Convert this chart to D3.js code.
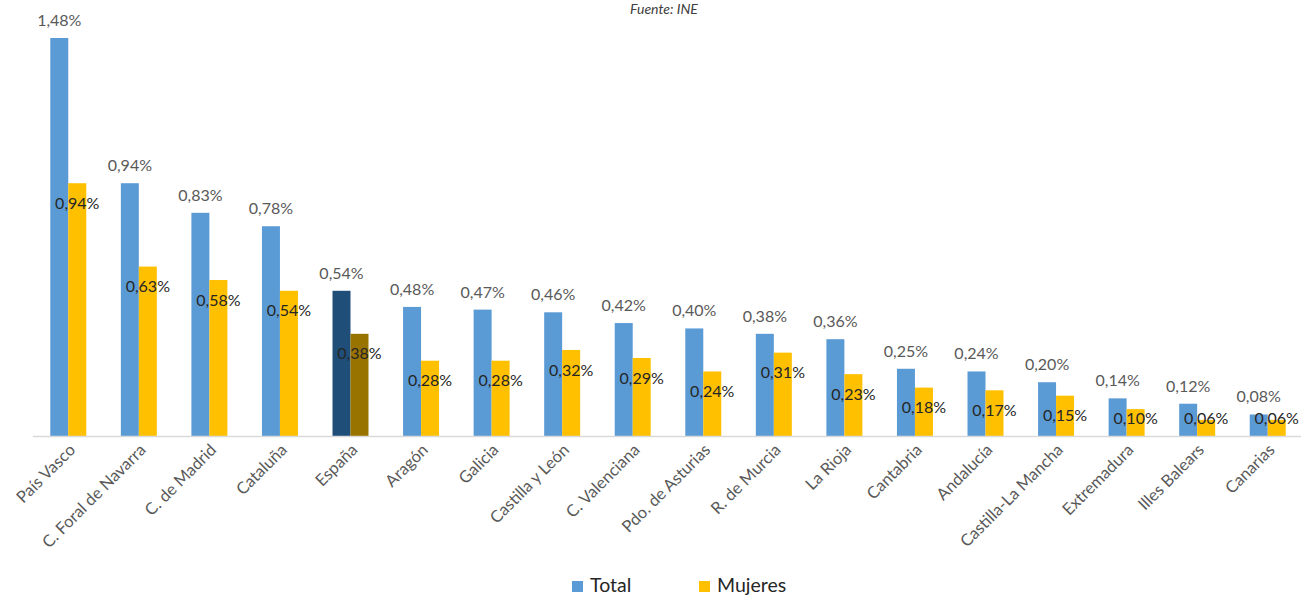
<!DOCTYPE html>
<html>
<head>
<meta charset="utf-8">
<script src="https://cdn.jsdelivr.net/npm/d3@7"></script>
<style>
  html, body { margin: 0; padding: 0; background: #fff; }
  svg { display: block; font-family: Lato, "Open Sans", sans-serif; }
</style>
</head>
<body>
<svg id="chart" width="1301" height="597"></svg>
<script>
// Comunidades autónomas, ordered by the total share
const categories = ["País Vasco", "C. Foral de Navarra", "C. de Madrid", "Cataluña", "España",
  "Aragón", "Galicia", "Castilla y León", "C. Valenciana", "Pdo. de Asturias", "R. de Murcia",
  "La Rioja", "Cantabria", "Andalucía", "Castilla-La Mancha", "Extremadura", "Illes Balears", "Canarias"];
const totalValues = [1.48, 0.94, 0.83, 0.78, 0.54, 0.48, 0.47, 0.46, 0.42, 0.40, 0.38, 0.36, 0.25, 0.24, 0.20, 0.14, 0.12, 0.08];
const mujeresValues = [0.94, 0.63, 0.58, 0.54, 0.38, 0.28, 0.28, 0.32, 0.29, 0.24, 0.31, 0.23, 0.18, 0.17, 0.15, 0.10, 0.06, 0.06];
const seriesNames = ["Total", "Mujeres"];
const sourceNote = "Fuente: INE";
const highlighted = "España";

const colors = { Total: "#5B9BD5", Mujeres: "#FFC000" };
const highlightColors = { Total: "#1F4E79", Mujeres: "#997300" };

const svg = d3.select("#chart");
const baseY = 436;
const fmt = v => d3.format(".2f")(v).replace(".", ",") + "%";

const x0 = d3.scaleBand().domain(categories).range([33, 1303]).paddingInner(0.49).paddingOuter(0.245);
const x1 = d3.scaleBand().domain(seriesNames).range([0, x0.bandwidth()]);
const y = d3.scaleLinear().domain([0, 1.48]).range([baseY, 38]);

const rows = categories.map((c, i) => ({ cat: c, Total: totalValues[i], Mujeres: mujeresValues[i] }));

// Source note
svg.append("text").attr("x", 664).attr("y", 14).attr("text-anchor", "middle")
  .attr("font-style", "italic").attr("font-size", 14).attr("fill", "#404040").text(sourceNote);

// Bars
const groups = svg.append("g").selectAll("g").data(rows).join("g")
  .attr("transform", d => `translate(${x0(d.cat)},0)`);

groups.selectAll("rect").data(d => seriesNames.map(s => ({ s, v: d[s], cat: d.cat })))
  .join("rect")
  .attr("x", d => x1(d.s))
  .attr("y", d => y(d.v))
  .attr("width", x1.bandwidth())
  .attr("height", d => baseY - y(d.v))
  .attr("fill", d => d.cat === highlighted ? highlightColors[d.s] : colors[d.s]);

// Axis line
svg.append("line").attr("x1", 33).attr("x2", 1301).attr("y1", baseY + 0.5).attr("y2", baseY + 0.5)
  .attr("stroke", "#d9d9d9").attr("stroke-width", 1.6);

// Total labels above the bars
groups.append("text")
  .attr("x", x1("Total") + x1.bandwidth() / 2)
  .attr("y", d => y(d.Total) - 12)
  .attr("text-anchor", "middle").attr("font-size", 16).attr("fill", "#595959")
  .text(d => fmt(d.Total));

// Mujeres labels inside the bar end, kept above the axis
groups.append("text")
  .attr("x", x1("Mujeres") + x1.bandwidth() / 2)
  .attr("y", d => Math.min(y(d.Mujeres) + 20, 418))
  .attr("dy", "0.35em")
  .attr("text-anchor", "middle").attr("font-size", 16).attr("fill", "#262626")
  .text(d => fmt(d.Mujeres));

// Category labels
svg.append("g").selectAll("text").data(categories).join("text")
  .attr("transform", d => `translate(${x0(d) + x0.bandwidth() / 2 + 8},${baseY + 15}) rotate(-45)`)
  .attr("text-anchor", "end").attr("font-size", 16.5).attr("fill", "#595959")
  .text(d => d);

// Legend
const legend = svg.append("g");
const legendItems = [{ s: "Total", x: 572 }, { s: "Mujeres", x: 699 }];
legend.selectAll("rect").data(legendItems).join("rect")
  .attr("x", d => d.x).attr("y", 581).attr("width", 11).attr("height", 11)
  .attr("fill", d => colors[d.s]);
legend.selectAll("text").data(legendItems).join("text")
  .attr("x", d => d.x + 18).attr("y", 592)
  .attr("font-size", 19.5).attr("fill", "#262626")
  .text(d => d.s);
</script>
</body>
</html>
